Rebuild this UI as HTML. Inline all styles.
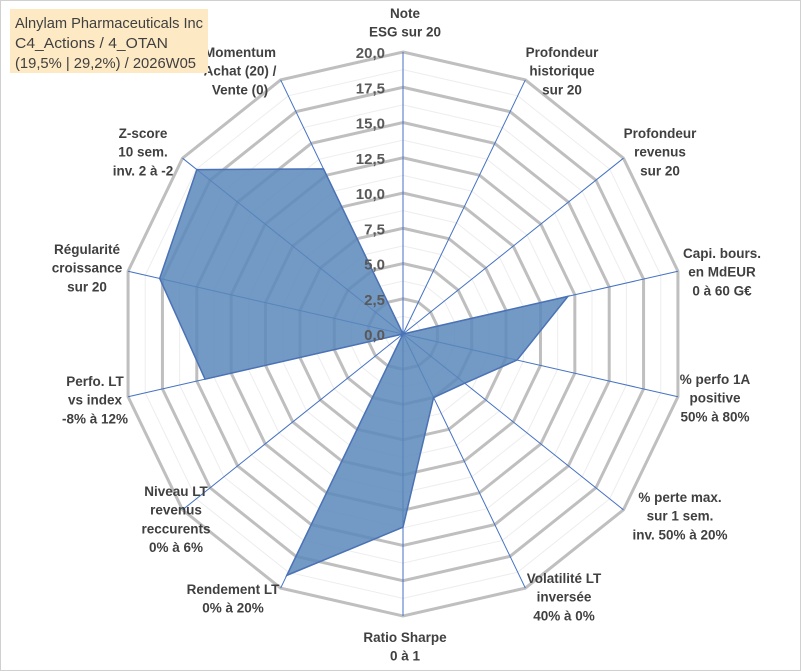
<!DOCTYPE html>
<html><head><meta charset="utf-8"><style>
body{margin:0;background:#fff;}
svg{display:block;font-family:"Liberation Sans",sans-serif;}
</style></head><body>
<svg id="chart" width="801" height="671">
<rect x="0.5" y="0.5" width="800" height="670" fill="#fff" stroke="#d0d0d0"/>
<g id="grid"></g><g id="axes"></g><g id="series"></g><g id="ticks"></g><g id="labels"></g>
<g>
<rect x="10" y="9" width="198" height="64" fill="#fde9c4"/>
<text x="15" y="28" font-size="15" fill="#404040" textLength="188" lengthAdjust="spacingAndGlyphs">Alnylam Pharmaceuticals Inc</text>
<text x="15" y="48" font-size="15" fill="#404040" textLength="153" lengthAdjust="spacingAndGlyphs">C4_Actions / 4_OTAN</text>
<text x="15" y="68" font-size="15" fill="#404040" textLength="181" lengthAdjust="spacingAndGlyphs">(19,5% | 29,2%) / 2026W05</text>
</g>
</svg>
<script>
const categories=[["Note","ESG sur 20"],["Profondeur","historique","sur 20"],["Profondeur","revenus","sur 20"],["Capi. bours.","en MdEUR","0 à 60 G€"],["% perfo 1A","positive","50% à 80%"],["% perte max.","sur 1 sem.","inv. 50% à 20%"],["Volatilité LT","inversée","40% à 0%"],["Ratio Sharpe","0 à 1"],["Rendement LT","0% à 20%"],["Niveau LT","revenus","reccurents","0% à 6%"],["Perfo. LT","vs index","-8% à 12%"],["Régularité","croissance","sur 20"],["Z-score","10 sem.","inv. 2 à -2"],["Momentum","Achat (20) /","Vente (0)"]];
const values=[0,0,0,12,8.3,5.6,5.0,13.7,19,0,14.4,17.7,18.7,13];
const tickLabels=["0,0","2,5","5,0","7,5","10,0","12,5","15,0","17,5","20,0"];
const maxV=20;
const labelPos=[[405,18],[562,57],[660,138],[722,258],[715,384],[680,502],[564,583],[405,642],[233,594],[176,496],[95,386],[87,254],[143,138],[240,57]];
const cx=403,cy=334,R=282,N=categories.length;
const ns="http://www.w3.org/2000/svg";
function pt(i,v){const a=i*2*Math.PI/N;const r=v/maxV*R;return [cx+r*Math.sin(a),cy-r*Math.cos(a)];}
function mk(t,at,p){const e=document.createElementNS(ns,t);for(const k in at)e.setAttribute(k,at[k]);p.appendChild(e);return e;}
const grid=document.getElementById('grid');
for(let k=1;k<=16;k++){const v=k*maxV/16;const pts=[];for(let i=0;i<N;i++)pts.push(pt(i,v).join(','));
const major=k%2==0;
const e=mk('polygon',{points:pts.join(' '),fill:'none',stroke:major?'#bfbfbf':'#ededed','stroke-width':major?3:1},grid);

}
const axes=document.getElementById('axes');
for(let i=0;i<N;i++){const p=pt(i,maxV);const e=mk('line',{x1:cx,y1:cy,x2:p[0],y2:p[1],stroke:'#4472c4','stroke-width':1},axes);

}
const series=document.getElementById('series');
const sp=values.map((v,i)=>pt(i,v).join(',')).join(' ');
const poly=mk('polygon',{points:sp,fill:'#5b87bb','fill-opacity':0.85,stroke:'#4a72b5','stroke-width':1.5},series);


const ticks=document.getElementById('ticks');
tickLabels.forEach((t,k)=>{const v=k*maxV/(tickLabels.length-1);const y=cy-v/maxV*R;
const e=mk('text',{x:385,y:y+6,'text-anchor':'end','font-size':15,'font-weight':'bold',fill:'#595959'},ticks);e.textContent=t;

});
const labels=document.getElementById('labels');
categories.forEach((c,i)=>{const g=mk('text',{'text-anchor':'middle','font-size':13.5,'font-weight':'bold',fill:'#404040'},labels);


c.forEach((l,j)=>{const s=mk('tspan',{x:labelPos[i][0],y:labelPos[i][1]+j*18.7},g);s.textContent=l;});});
</script>
</body></html>
